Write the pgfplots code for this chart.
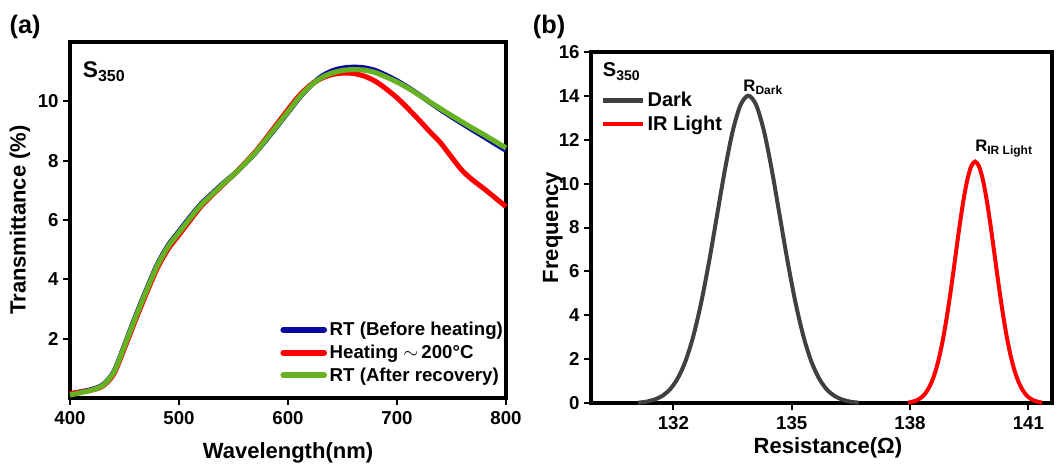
\documentclass[border=0pt]{standalone}
\usepackage{fontspec}
\setmainfont{Liberation Sans}
\usepackage{pgfplots}
\pgfplotsset{compat=1.18}
\definecolor{cblue}{RGB}{10,10,160}
\definecolor{cred}{RGB}{255,0,0}
\definecolor{cgreen}{RGB}{102,178,34}
\definecolor{cgray}{RGB}{64,64,64}
\pgfplotsset{
  myaxis/.style={
    scale only axis,
    axis line style={line width=3pt, line join=miter},
    every tick/.style={black, line width=1.5pt},
    major tick length=5pt,
    tick align=outside,
    xtick pos=bottom, ytick pos=left,
    /pgf/number format/assume math mode=true,
    /pgf/number format/1000 sep={},
    tick label style={font=\fontsize{14}{16}\selectfont\bfseries},
    xticklabel style={yshift=-1.5pt},
    label style={font=\fontsize{16.5}{19}\selectfont\bfseries},
    clip=false,
  }
}
\begin{document}
\begin{tikzpicture}
\path[use as bounding box] (0,0) rectangle (792.75pt,348pt);
% panel labels
\node[anchor=base west, inner sep=0pt, font=\fontsize{19}{22}\selectfont\bfseries] at (7pt,322.5pt) {(a)};
\node[anchor=base west, inner sep=0pt, font=\fontsize{19}{22}\selectfont\bfseries] at (399.5pt,322.5pt) {(b)};

% ---------------- panel (a)
\begin{axis}[myaxis,
  at={(52.5pt,49.5pt)}, anchor=south west,
  width=327pt, height=267pt,
  xmin=400, xmax=800, ymin=0, ymax=12,
  xtick={400,500,600,700,800},
  ytick={2,4,6,8,10},
  xlabel={Wavelength(nm)}, ylabel={Transmittance (\%)},
  xlabel style={at={(axis description cs:0.5,-0.1545)}, anchor=center},
  ylabel style={at={(axis description cs:-0.115,0.5)}, anchor=center},
  legend style={at={(0.482,0.222)}, anchor=north west, draw=none, fill=none,
    inner sep=0pt, row sep=1.5pt,
    font=\fontsize{14}{17}\selectfont\bfseries, cells={anchor=west}},
  legend image code/.code={\draw[#1, line width=4.5pt, line cap=round] (1.5pt,0pt) -- (32pt,0pt);},
]
\addplot[cblue, line width=3.8pt, smooth] coordinates {
(400,0.14) (410,0.21) (420,0.29) (430,0.44) (440,0.87) (450,1.78) (460,2.74) (470,3.64)
(480,4.49) (490,5.14) (500,5.62) (510,6.09) (520,6.53) (530,6.88) (540,7.22) (550,7.53)
(560,7.88) (570,8.26) (580,8.70) (590,9.16) (600,9.63) (610,10.10) (620,10.50) (630,10.82)
(640,11.02) (650,11.12) (660,11.15) (670,11.13) (680,11.04) (690,10.88) (700,10.69)
(710,10.47) (720,10.23) (730,9.97) (740,9.72) (750,9.48) (760,9.25) (770,9.02) (780,8.80)
(790,8.57) (800,8.35)};
\addlegendentry{RT (Before heating)}
\addplot[cred, line width=3.8pt, smooth] coordinates {
(400,0.15) (410,0.20) (420,0.27) (430,0.40) (440,0.80) (450,1.68) (460,2.62) (470,3.52)
(480,4.37) (490,5.02) (500,5.50) (510,5.98) (520,6.45) (530,6.82) (540,7.18) (550,7.52)
(560,7.90) (570,8.30) (580,8.76) (590,9.24) (600,9.72) (610,10.18) (620,10.53) (630,10.76)
(640,10.90) (650,10.95) (660,10.94) (670,10.85) (680,10.68) (690,10.42) (700,10.12)
(710,9.76) (720,9.38) (730,8.98) (740,8.60) (750,8.12) (760,7.66) (770,7.33)
(780,7.05) (790,6.75) (800,6.45)};
\addlegendentry{Heating $\sim$\,200\textdegree C}
\addplot[cgreen, line width=3.8pt, smooth] coordinates {
(400,0.10) (410,0.18) (420,0.27) (430,0.42) (440,0.85) (450,1.75) (460,2.70) (470,3.60)
(480,4.45) (490,5.10) (500,5.58) (510,6.05) (520,6.50) (530,6.85) (540,7.20) (550,7.52)
(560,7.88) (570,8.27) (580,8.72) (590,9.18) (600,9.65) (610,10.12) (620,10.50) (630,10.78)
(640,10.95) (650,11.04) (660,11.07) (670,11.05) (680,10.97) (690,10.82) (700,10.65)
(710,10.45) (720,10.22) (730,9.98) (740,9.75) (750,9.52) (760,9.30) (770,9.08) (780,8.87)
(790,8.65) (800,8.43)};
\addlegendentry{RT (After recovery)}
\end{axis}
\node[anchor=base west, inner sep=0pt, font=\bfseries] at (62pt,290pt)
  {\fontsize{17}{20}\selectfont S\raisebox{-3.5pt}{\fontsize{12}{14}\selectfont 350}};

% ---------------- panel (b)
\begin{axis}[myaxis,
  at={(443.25pt,45.5pt)}, anchor=south west,
  width=345.75pt, height=263.7pt,
  xmin=129.91, xmax=141.6, ymin=0, ymax=16,
  xtick={132,135,138,141},
  ytick={0,2,4,6,8,10,12,14,16},
  xlabel={Resistance(Ω)}, ylabel={Frequency},
  xlabel style={at={(axis description cs:0.514,-0.127)}, anchor=center},
  ylabel style={at={(axis description cs:-0.083,0.5)}, anchor=center},
  legend style={at={(0.0195,0.894)}, anchor=north west, draw=none, fill=none,
    inner sep=0pt, row sep=1.5pt,
    font=\fontsize{15}{18}\selectfont\bfseries, cells={anchor=west}},
  legend image code/.code={\draw[#1, line width=3.5pt] (0pt,0pt) -- (30pt,0pt);},
]
\addplot[cgray, line width=3pt, smooth] coordinates {
(131.1,0.03) (131.3,0.07) (131.5,0.16) (131.7,0.32) (131.9,0.61) (132.1,1.11) (132.3,1.89)
(132.5,3.03) (132.7,4.55) (132.9,6.41) (133.1,8.49) (133.3,10.57) (133.5,12.36) (133.7,13.57)
(133.9,14.00) (134.1,13.57) (134.3,12.36) (134.5,10.57) (134.7,8.49) (134.9,6.41) (135.1,4.55)
(135.3,3.03) (135.5,1.89) (135.7,1.11) (135.9,0.61) (136.1,0.32) (136.3,0.16) (136.5,0.07)
(136.7,0.03)};
\addlegendentry{Dark}
\addplot[cred, line width=3pt, smooth] coordinates {
(137.95,0.03) (138.05,0.07) (138.15,0.12) (138.25,0.22) (138.35,0.37) (138.45,0.62)
(138.55,0.98) (138.65,1.49) (138.75,2.18) (138.85,3.06) (138.95,4.13) (139.05,5.35)
(139.15,6.67) (139.25,7.99) (139.35,9.19) (139.45,10.15) (139.55,10.78) (139.65,11.00)
(139.75,10.78) (139.85,10.15) (139.95,9.19) (140.05,7.99) (140.15,6.67) (140.25,5.35)
(140.35,4.13) (140.45,3.06) (140.55,2.18) (140.65,1.49) (140.75,0.98) (140.85,0.62)
(140.95,0.37) (141.05,0.22) (141.15,0.12) (141.25,0.07) (141.35,0.03)};
\addlegendentry{IR Light}
\node[anchor=base west, inner sep=0pt, font=\bfseries] at (axis cs:133.77,14.19)
  {\fontsize{12.5}{14}\selectfont R\raisebox{-2.5pt}{\fontsize{9}{10}\selectfont Dark}};
\node[anchor=base west, inner sep=0pt, font=\bfseries] at (axis cs:139.65,11.46)
  {\fontsize{12.5}{14}\selectfont R\raisebox{-2.5pt}{\fontsize{9}{10}\selectfont IR Light}};
\end{axis}
\node[anchor=base west, inner sep=0pt, font=\bfseries] at (452pt,290.25pt)
  {\fontsize{15}{18}\selectfont S\raisebox{-3pt}{\fontsize{10.5}{12}\selectfont 350}};
\end{tikzpicture}
\end{document}
